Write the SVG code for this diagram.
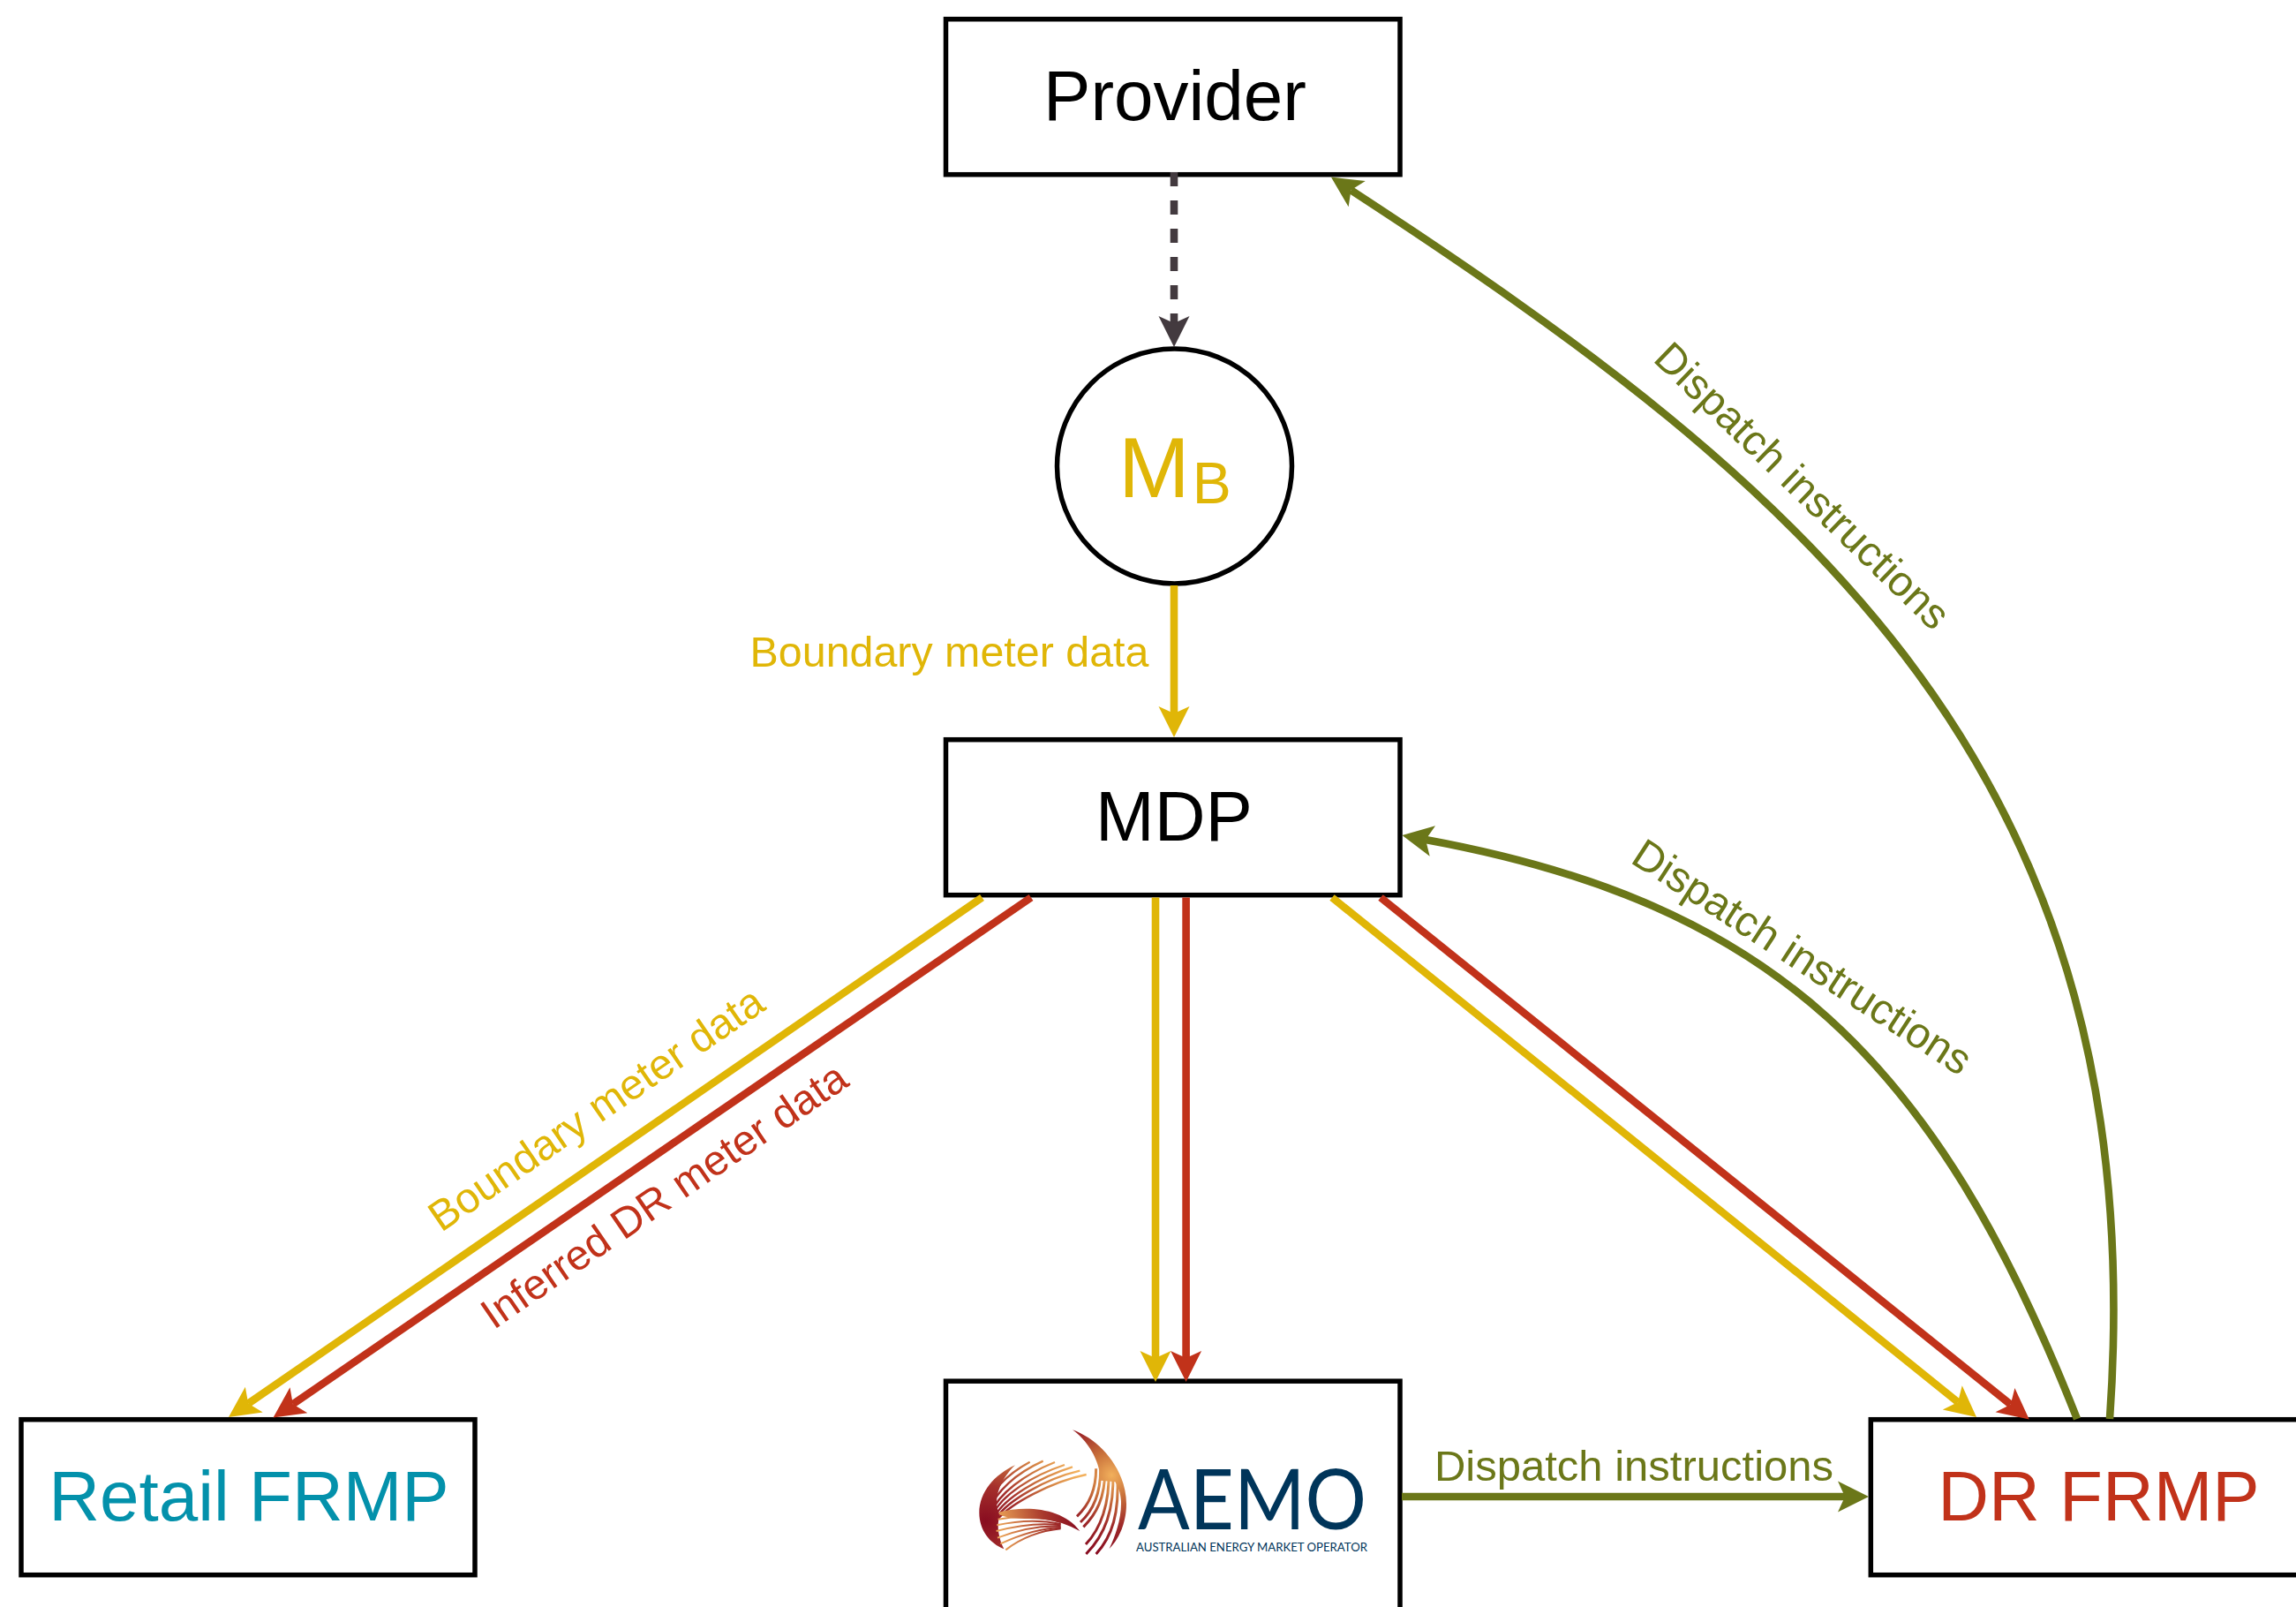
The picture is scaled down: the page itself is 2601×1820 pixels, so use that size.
<svg xmlns="http://www.w3.org/2000/svg" width="2601" height="1820" viewBox="0 0 2601 1820">
<style>
text{font-family:"Liberation Sans",Arial,sans-serif}
.box{fill:#fff;stroke:#000;stroke-width:5.5}
.name{font-size:80px;text-anchor:middle}
.lbl{font-size:48.4px;text-anchor:middle}
.rot{font-size:48px;text-anchor:middle}
.dis{font-size:49px;text-anchor:middle}
.c{fill:none;stroke-width:8.6}
.y{stroke:#e0b607}.r{stroke:#c1321a}.o{stroke:#6b7719}.k{stroke:#433a3f}
.my{marker-end:url(#ay)}.mr{marker-end:url(#ar)}.mo{marker-end:url(#ao)}.mk{marker-end:url(#ak)}
.fy{fill:#e0b607}.fr{fill:#c1321a}.fo{fill:#6b7719}.ft{fill:#0391ab}
.st{fill:none;stroke-linecap:butt}
</style>
<defs>
<marker id="ay" markerUnits="userSpaceOnUse" markerWidth="40" markerHeight="40" refX="8" refY="20" orient="auto" overflow="visible"><path d="M0,2.5L8,20L0,37.5L35,20Z" fill="#e0b607"/></marker>
<marker id="ar" markerUnits="userSpaceOnUse" markerWidth="40" markerHeight="40" refX="8" refY="20" orient="auto" overflow="visible"><path d="M0,2.5L8,20L0,37.5L35,20Z" fill="#c1321a"/></marker>
<marker id="ao" markerUnits="userSpaceOnUse" markerWidth="40" markerHeight="40" refX="8" refY="20" orient="auto" overflow="visible"><path d="M0,2.5L8,20L0,37.5L35,20Z" fill="#6b7719"/></marker>
<marker id="ak" markerUnits="userSpaceOnUse" markerWidth="40" markerHeight="40" refX="8" refY="20" orient="auto" overflow="visible"><path d="M0,2.5L8,20L0,37.5L35,20Z" fill="#433a3f"/></marker>
<radialGradient id="sail" gradientUnits="userSpaceOnUse" cx="478" cy="212" r="270">
<stop offset="0" stop-color="#f2b05c"/><stop offset=".3" stop-color="#c8703a"/><stop offset=".62" stop-color="#a02c2a"/><stop offset="1" stop-color="#880c20"/></radialGradient>
<radialGradient id="fan" gradientUnits="userSpaceOnUse" cx="50" cy="370" r="350">
<stop offset="0" stop-color="#880c20"/><stop offset=".35" stop-color="#a5302c"/><stop offset=".7" stop-color="#d27f42"/><stop offset="1" stop-color="#f2b05c"/></radialGradient>
<linearGradient id="low" gradientUnits="userSpaceOnUse" x1="370" y1="390" x2="90" y2="440">
<stop offset="0" stop-color="#880c20"/><stop offset=".4" stop-color="#a8382c"/><stop offset="1" stop-color="#f0ac5a"/></linearGradient>
</defs>

<g id="node-provider"><rect class="box" x="1071.5" y="21.7" width="514.5" height="176"/><text class="name" x="1331" y="136">Provider</text></g>
<g id="node-mb"><circle cx="1330.5" cy="528" r="133" fill="#fff" stroke="#000" stroke-width="5.5"/><text class="fy" x="1267" y="563" font-size="97">M<tspan font-size="66" dy="7" dx="3">B</tspan></text></g>
<g id="node-mdp"><rect class="box" x="1071.5" y="837.7" width="514.5" height="176"/><text class="name" x="1330" y="952">MDP</text></g>
<g id="node-retail"><rect class="box" x="24" y="1607.7" width="514" height="176"/><text class="name ft" x="282" y="1722">Retail FRMP</text></g>
<g id="node-aemo"><rect class="box" x="1071.5" y="1564.2" width="514.5" height="290"/>
<g id="aemo-logo">
<g transform="translate(1100 1600) scale(.33333)">
<path d="M345,58C440,92 528,195 528,310C528,375 502,430 470,462C490,420 512,360 510,300C508,270 500,250 490,235L440,230C440,180 410,105 345,58Z" fill="url(#sail)"/>
<g class="st" stroke="url(#sail)" stroke-width="9">
<path d="M425,190C425,265 400,315 360,352"/>
<path d="M440,195C440,280 412,335 372,372"/>
<path d="M455,195C456,290 425,345 382,388"/>
<path d="M468,195C472,310 440,395 390,447"/>
<path d="M482,200C488,330 455,415 391,480"/>
<path d="M497,210C505,340 480,420 425,480"/>
</g>
<path d="M150,178C80,210 28,270 28,340C28,400 65,445 112,463C95,430 85,385 98,345C70,300 100,225 150,178Z" fill="url(#fan)"/>
<g class="st" stroke="url(#fan)" stroke-width="7">
<path d="M50,330C70,260 130,205 200,167"/>
<path d="M60,335C85,265 155,205 245,164"/>
<path d="M68,340C95,275 180,210 285,168"/>
<path d="M75,345C105,280 205,215 318,177"/>
<path d="M82,350C115,290 230,220 345,184"/>
<path d="M88,355C125,300 250,225 370,197"/>
<path d="M92,360C135,310 270,235 392,210"/>
</g>
<path d="M95,338C180,315 310,320 370,402C330,380 290,365 240,362C190,358 130,365 95,345Z" fill="url(#low)"/>
<g class="st" stroke="url(#low)" stroke-width="6">
<path d="M305,372C230,350 150,350 92,362"/>
<path d="M305,378C230,362 150,368 88,382"/>
<path d="M305,382C230,372 150,385 86,402"/>
<path d="M305,386C225,382 150,402 90,425"/>
<path d="M305,390C225,392 155,420 100,445"/>
<path d="M305,394C225,402 165,430 118,466"/>
</g>
</g>
<text x="1289" y="1732" font-size="95" textLength="259" lengthAdjust="spacingAndGlyphs" fill="#00355a" style="font-family:Lato,'Liberation Sans',sans-serif">AEMO</text>
<text x="1287" y="1757" font-size="14" textLength="262" lengthAdjust="spacingAndGlyphs" fill="#00355a" style="font-family:Lato,'Liberation Sans',sans-serif">AUSTRALIAN ENERGY MARKET OPERATOR</text>
</g></g>
<g id="node-dr"><rect class="box" x="2119.3" y="1607.7" width="514" height="176"/><text class="name fr" x="2377.5" y="1722">DR FRMP</text></g>

<g id="connectors">
<path class="c k mk" stroke-dasharray="16 16" d="M1330,195V366"/>
<path class="c y my" d="M1330,663V808"/>
<path class="c y my" d="M1112.5,1016.5L281.2,1589.6"/>
<path class="c r mr" d="M1168,1016.5L331.8,1590.3"/>
<path class="c y my" d="M1309,1016.5V1538"/>
<path class="c r mr" d="M1343.6,1016.5V1538"/>
<path class="c y my" d="M1509,1016.5L2218,1588"/>
<path class="c r mr" d="M1564,1016.5L2277.7,1590.7"/>
<path class="c o mo" d="M1588,1695H2090"/>
<path class="c o mo" d="M2390,1607C2441,877 2049.5,554 1530.5,215.3"/>
<path class="c o mo" d="M2353,1607C2192,1198 2007,1023 1615,951"/>
</g>

<g id="labels">
<text class="lbl fy" x="1075.5" y="755">Boundary meter data</text>
<text class="dis fo" x="1851" y="1677">Dispatch instructions</text>
<text class="rot fo" transform="translate(2041 551) rotate(44)" y="15">Dispatch instructions</text>
<text class="lbl fo" transform="translate(2041 1085) rotate(33)" y="15">Dispatch instructions</text>
<text class="rot fy" transform="translate(676 1257) rotate(-34.5)" y="15">Boundary meter data</text>
<text class="rot fr" transform="translate(753 1355) rotate(-34.5)" y="15">Inferred DR meter data</text>
</g>
</svg>
